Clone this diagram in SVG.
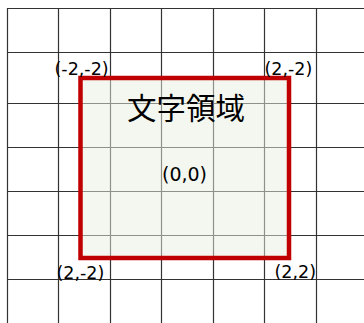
<svg xmlns="http://www.w3.org/2000/svg" width="364" height="323" viewBox="0 0 364 323">
<style>
.grid line{stroke:#333;stroke-width:1.2}
.lbl{font-family:"DejaVu Sans","Noto Sans CJK JP",sans-serif;fill:#000}
.region{fill:#eaf0df;fill-opacity:0.5;stroke:#c00000;stroke-width:4.5}
</style>
<rect width="364" height="323" fill="#fff"/>
<g id="grid" class="grid">
<line x1="7.5" y1="8" x2="7.5" y2="323"/>
<line x1="58.5" y1="8" x2="58.5" y2="323"/>
<line x1="110.5" y1="8" x2="110.5" y2="323"/>
<line x1="161.5" y1="8" x2="161.5" y2="323"/>
<line x1="213.5" y1="8" x2="213.5" y2="323"/>
<line x1="264.5" y1="8" x2="264.5" y2="323"/>
<line x1="316.5" y1="8" x2="316.5" y2="323"/>
<line x1="7" y1="8.5" x2="364" y2="8.5"/>
<line x1="7" y1="52.5" x2="364" y2="52.5"/>
<line x1="7" y1="103.5" x2="364" y2="103.5"/>
<line x1="7" y1="147.5" x2="364" y2="147.5"/>
<line x1="7" y1="191.5" x2="364" y2="191.5"/>
<line x1="7" y1="235.5" x2="364" y2="235.5"/>
<line x1="7" y1="279.5" x2="364" y2="279.5"/>
</g>
<g id="text-region">
<rect class="region" x="80.5" y="78" width="208.5" height="180"/>
<text class="lbl" x="186" y="119" font-size="29.5" text-anchor="middle">文字領域</text>
<text class="lbl" x="184.5" y="181" font-size="19" text-anchor="middle">(0,0)</text>
</g>
<g id="corner-labels" class="lbl" font-size="17.5">
<text x="54.5" y="75">(-2,-2)</text>
<text x="264.5" y="75">(2,-2)</text>
<text x="56.5" y="279">(2,-2)</text>
<text x="274.5" y="278">(2,2)</text>
</g>
</svg>
